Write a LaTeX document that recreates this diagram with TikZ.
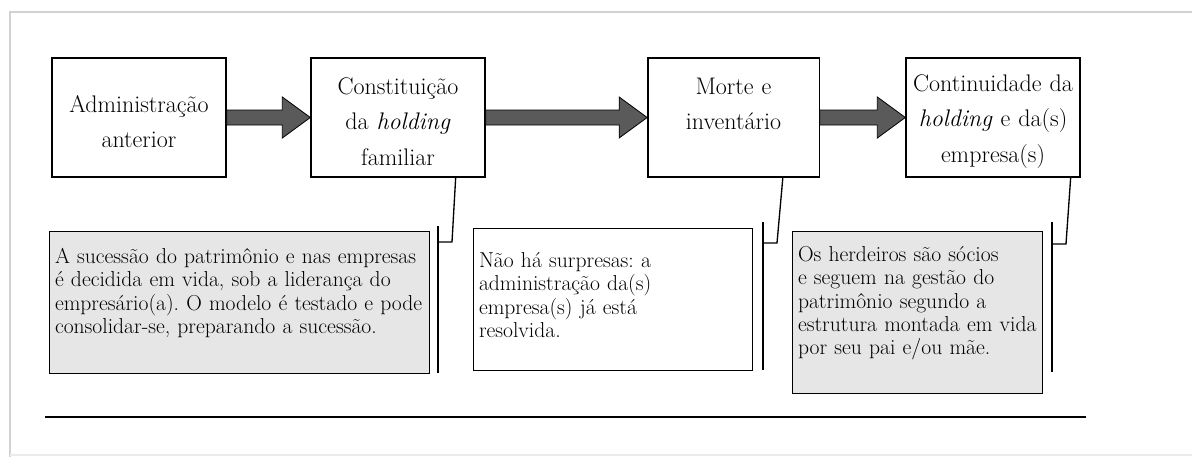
\documentclass[tikz,border=0pt]{standalone}
\usepackage{fontspec}
\usetikzlibrary{calc}

\definecolor{arrowgray}{HTML}{5A5A5A}
\definecolor{notegray}{HTML}{E6E6E6}
\definecolor{framegray}{HTML}{D2D2D2}

\begin{document}
\begin{tikzpicture}[x=0.75pt, y=-0.75pt,
        stage/.style = {shape=rectangle, draw, line width=1pt, fill=white,
            align=center, text width=126pt, inner xsep=2.25pt,
            minimum height=89.25pt, text height=18.5pt,
            font=\fontsize{18}{26.5}\selectfont},
        note/.style = {shape=rectangle, draw, line width=1pt, anchor=north west,
            align=left, inner xsep=4pt, inner ysep=7.75pt,
            font=\fontsize{16.2}{17.5}\selectfont\frenchspacing},
        fat arrow/.style = {draw, line width=0.6pt, fill=arrowgray, line join=miter},
        leader/.style = {draw, line width=1pt},
        frame/.style = {draw=framegray, line width=1.5pt}]

        \fill[white] (0,0) rectangle (1192,457);
        \useasboundingbox (0,0) rectangle (1192,457);
        \draw[frame] (1192,12) -- (10,12) -- (10,457);
        \draw[draw=black!8, line width=1pt] (10,455) -- (1192,455);

        % etapas
        \node[stage] (adm) at (139,117.5) {Administração\\anterior};
        \node[stage] (const) at (398,117.5) {Constituição\\da \textit{holding}\\familiar};
        \node[stage, text width=124pt] (morte) at (733.5,117.5) {Morte e\\inventário\\\mbox{}};
        \node[stage] (cont) at (993,117.5) {Continuidade da\\\textit{holding} e da(s)\\empresa(s)};

        \foreach \a/\b in {adm/const, const/morte, morte/cont}
            \draw[fat arrow] ($(\a.east)+(0,7.5)$) -- ($(\b.west)+(-28,7.5)$)
                -- ($(\b.west)+(-28,20.5)$) -- (\b.west)
                -- ($(\b.west)+(-28,-20.5)$) -- ($(\b.west)+(-28,-7.5)$)
                -- ($(\a.east)+(0,-7.5)$) -- cycle;

        % notas
        \node[note, fill=notegray, text width=277pt, text height=16pt, text depth=75pt]
            (suc) at (49,231) {A sucessão do patrimônio e nas empresas\\
            é decidida em vida, sob a liderança do\\
            empresário(a). O modelo é testado e pode\\
            consolidar-se, preparando a sucessão.};
        \node[note, fill=white, text width=201.25pt, text height=21.25pt, text depth=69.75pt]
            (surp) at (473,228) {Não há surpresas: a\\
            administração da(s)\\
            empresa(s) já está\\
            resolvida.};
        \node[note, fill=notegray, text width=179.5pt, text height=14.5pt, text depth=91.5pt]
            (herd) at (792,231) {Os herdeiros são sócios\\
            e seguem na gestão do\\
            patrimônio segundo a\\
            estrutura montada em vida\\
            por seu pai e/ou mãe.};

        % chaves
        \coordinate (kA) at (438,242);
        \coordinate (kB) at (763,243);
        \coordinate (kC) at (1052,244);
        \draw[leader] ($(const.south east)+(-30,0)$) -- ($(kA)+(14,0)$) -- (kA);
        \draw[leader] (438,226) -- (438,373);
        \draw[leader] ($(morte.south east)+(-37,0)$) -- ($(kB)+(14,0)$) -- (kB);
        \draw[leader] (763,222) -- (763,370);
        \draw[leader] ($(cont.south east)+(-10,0)$) -- ($(kC)+(14,0)$) -- (kC);
        \draw[leader] (1052,222) -- (1052,372);

        \draw[line width=1.2pt] (45,417) -- (1086,417);
    \end{tikzpicture}
\end{document}
